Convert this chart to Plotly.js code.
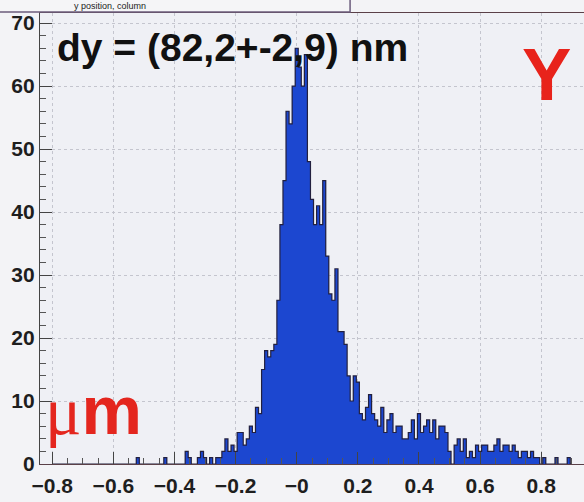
<!DOCTYPE html>
<html>
<head>
<meta charset="utf-8">
<script src="https://cdn.plot.ly/plotly-3.0.1.min.js"></script>
<style>html,body{margin:0;padding:0;background:#f3f3f6;overflow:hidden}</style>
</head>
<body>
<div id="chart" style="width:584px;height:502px"></div>
<script>
// Histogram: bin centres start at binLo, spaced binW
const binLo = -0.80;
const binW = 0.01;
const counts = [
  0,0,0,0,0,0,0,0,0,0,
  0,0,0,0,0,0,0,0,0,0,
  0,0,0,0,0,0,0,0,1,0,
  0,0,0,0,0,0,0,1,0,0,
  0,0,0,0,2,1,0,0,1,2,
  1,0,1,0,1,1,2,4,2,3,
  2,5,5,3,4,6,5,9,8,15,
  18,17,18,19,26,38,45,56,54,60,
  66,63,60,65,48,42,38,41,38,45,
  33,27,26,31,21,21,19,14,10,14,
  13,8,7,9,11,8,7,6,9,5,
  7,8,5,6,6,4,4,5,7,4,
  8,5,6,7,5,7,4,6,6,5,
  2,0,3,4,2,4,1,2,1,3,
  2,3,3,2,2,3,4,2,3,3,
  2,3,2,1,2,2,1,2,1,1,
  0,1,0,0,0,1,0,0,0,1,
  0
];
const xTickVals = [-0.8,-0.6,-0.4,-0.2,0,0.2,0.4,0.6,0.8];
const xTickText = ["\u22120.8","\u22120.6","\u22120.4","\u22120.2","\u22120","0.2","0.4","0.6","0.8"];
const yTickVals = [0,10,20,30,40,50,60,70];
const titleText = "dy = (82,2+-2,9) nm";
const boxText = "y position, column";

const centres = counts.map((_, i) => +(binLo + i * binW).toFixed(4));

const tickFont = {family: "Liberation Sans, Arial, sans-serif", size: 21, color: "#1e1e1e", weight: "bold"};

const traces = [
  {
    type: "bar", x: centres, y: counts, width: binW,
    marker: {color: "#1c47d0", line: {width: 0}},
    hoverinfo: "skip", showlegend: false
  },
  {
    type: "scatter", mode: "lines", x: centres, y: counts,
    line: {shape: "hvh", color: "#22203f", width: 1.2},
    hoverinfo: "skip", showlegend: false
  }
];

const layout = {
  width: 584, height: 502,
  margin: {l: 40, r: 0, t: 13, b: 38, pad: 0},
  paper_bgcolor: "#f3f3f6",
  plot_bgcolor: "#eff0f5",
  bargap: 0,
  showlegend: false,
  xaxis: {
    range: [-0.84, 0.94],
    tickmode: "array", tickvals: xTickVals, ticktext: xTickText,
    ticks: "inside", ticklen: 12, tickcolor: "#444", tickwidth: 1,
    minor: {dtick: 0.05, tick0: 0, ticks: "inside", ticklen: 6, tickcolor: "#555", showgrid: false},
    showline: true, linecolor: "#5a4048", linewidth: 1.2, mirror: true,
    showgrid: true, gridcolor: "#c4c5ce", griddash: "dot", gridwidth: 1,
    zeroline: false,
    ticklabelstandoff: 3,
    tickfont: tickFont
  },
  yaxis: {
    range: [0, 71.6],
    tickmode: "array", tickvals: yTickVals,
    ticks: "inside", ticklen: 12, tickcolor: "#444", tickwidth: 1,
    minor: {dtick: 2, tick0: 0, ticks: "inside", ticklen: 6, tickcolor: "#555", showgrid: false},
    showline: true, linecolor: "#444", linewidth: 1.2, mirror: false,
    showgrid: true, gridcolor: "#c4c5ce", griddash: "dot", gridwidth: 1,
    zeroline: false,
    tickfont: tickFont
  },
  shapes: [
    {type: "rect", xref: "paper", yref: "paper", x0: -0.1, x1: 0.57, y0: 1.0022, y1: 1.1,
     fillcolor: "#f5f5f7", line: {color: "#6c5c7c", width: 1.5}, layer: "above"}
  ],
  annotations: [
    {xref: "paper", yref: "paper", x: 0.06, y: 464 / 451, xanchor: "left", yanchor: "top",
     text: boxText, showarrow: false, borderpad: 0,
     font: {family: "Liberation Sans, Arial, sans-serif", size: 9, color: "#222"}},
    {xref: "paper", yref: "paper", x: (56 - 40) / 544, y: (464 - 47) / 451, xanchor: "left", yanchor: "middle",
     text: titleText, showarrow: false, borderpad: 0,
     font: {family: "Liberation Sans, Arial, sans-serif", size: 39, color: "#111", weight: "bold"}},
    {xref: "paper", yref: "paper", x: (546 - 40) / 544, y: (464 - 74) / 451, xanchor: "center", yanchor: "middle",
     text: "Y", showarrow: false, borderpad: 0,
     font: {family: "Liberation Sans, Arial, sans-serif", size: 74, color: "#e8231b", weight: "bold"}},
    {xref: "paper", yref: "paper", x: (44 - 40) / 544, y: (464 - 410) / 451, xanchor: "left", yanchor: "middle",
     text: "<span style=\"font-family:'Liberation Serif'\">\u03bc</span><b>m</b>", showarrow: false, borderpad: 0,
     font: {family: "Liberation Sans, Arial, sans-serif", size: 68, color: "#e4261e"}}
  ]
};

Plotly.newPlot("chart", traces, layout, {displayModeBar: false, staticPlot: true});
</script>
</body>
</html>
